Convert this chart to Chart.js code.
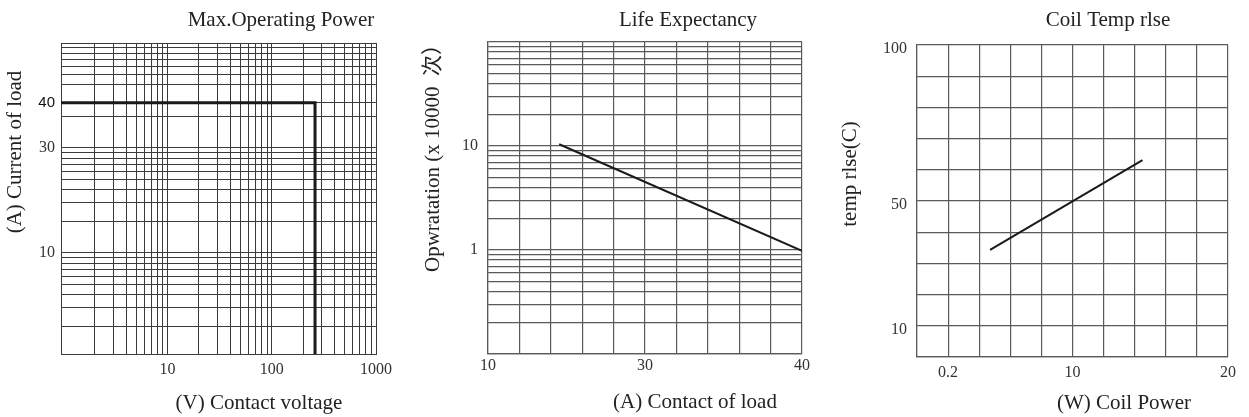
<!DOCTYPE html>
<html>
<head>
<meta charset="utf-8">
<script src="https://cdn.jsdelivr.net/npm/chart.js@4/dist/chart.umd.min.js"></script>
<style>
    body { margin: 0; background: #fff; }
    #wrap { position: relative; width: 1249px; height: 417px; }
    canvas { position: absolute; top: 0; }
</style>
</head>
<body>
<div id="wrap">
    <canvas id="powerChart" width="420" height="417" style="left:0px"></canvas>
    <canvas id="lifeChart" width="420" height="417" style="left:420px"></canvas>
    <canvas id="tempChart" width="409" height="417" style="left:840px"></canvas>
</div>
<script>
// Max.Operating Power (log / log)
const powerXTicks = [2, 3, 4, 5, 6, 7, 8, 9, 10, 20, 30, 40, 50, 60, 70, 80, 90, 100, 200, 300, 400, 500, 600, 700, 800, 900, 1000];
const powerYTicks = [2, 3, 4, 5, 6, 7, 8, 9, 10, 20, 30, 40, 50, 60, 70, 80, 90, 100, 200, 270, 400, 500, 600, 700, 800, 900, 1000];
const powerXLabels = { 10: '10', 100: '100', 1000: '1000' };
const powerYLabels = { 10: '10', 100: '30', 270: '40' };
const powerLimitX = [0.95, 260, 260];
const powerLimitY = [270, 270, 1.09];

// Life Expectancy
const lifeXTicks = [10, 13, 16, 19, 22, 25, 28, 31, 34, 37, 40];
const lifeYTicks = [0.1, 0.2, 0.3, 0.4, 0.5, 0.6, 0.7, 0.8, 0.9, 1, 2, 3, 4, 5, 6, 7, 8, 9, 10, 20, 30, 40, 50, 60, 70, 80, 90, 100];
const lifeXLabels = { 10: '10', 25: '30', 40: '40' };
const lifeYLabels = { 1: '1', 10: '10' };
const lifeX = [16.8, 40];
const lifeY = [10.4, 0.98];

// Coil Temp rlse
const tempXTicks = [0, 2, 4, 6, 8, 10, 12, 14, 16, 18, 20];
const tempYTicks = [0, 10, 20, 30, 40, 50, 60, 70, 80, 90, 100];
const tempXLabels = { 2: '0.2', 10: '10', 20: '20' };
const tempYLabels = { 10: '10', 50: '50', 100: '100' };
const tempX = [4.7, 14.5];
const tempY = [34.3, 63.1];

const SERIF = "'Liberation Serif', 'Noto Sans CJK SC', serif";

const panelText = {
    id: 'panelText',
    afterDraw(chart, args, opts) {
        const ctx = chart.ctx;
        opts.items.forEach(t => {
            ctx.save();
            ctx.font = '21px ' + SERIF;
            ctx.fillStyle = '#222';
            ctx.textAlign = 'center';
            ctx.textBaseline = 'middle';
            ctx.translate(t.x, t.y);
            if (t.rotate) ctx.rotate(-Math.PI / 2);
            ctx.fillText(t.text, 0, 0);
            ctx.restore();
        });
    }
};

function toPoints(xs, ys) {
    return xs.map((x, i) => ({ x: x, y: ys[i] }));
}

function makePanel(id, p) {
    const ctx = document.getElementById(id).getContext('2d');
    const w = ctx.canvas.width, h = ctx.canvas.height;
    new Chart(ctx, {
        type: 'line',
        data: {
            datasets: [{
                data: toPoints(p.xs, p.ys),
                borderColor: '#1a1a1a',
                borderWidth: p.lineWidth,
                pointRadius: 0,
                tension: 0,
                fill: false
            }]
        },
        options: {
            responsive: false,
            animation: false,
            layout: { padding: { left: 0, top: p.area.top, right: w - p.area.right, bottom: 0 } },
            plugins: {
                legend: { display: false },
                tooltip: { enabled: false },
                panelText: { items: p.texts }
            },
            scales: {
                x: {
                    type: p.xType,
                    min: p.xMin,
                    max: p.xMax,
                    afterBuildTicks: s => { s.ticks = p.xTicks.map(v => ({ value: v })); },
                    afterFit: s => { s.height = h - p.area.bottom; },
                    grid: { color: p.gridColor, lineWidth: p.gridWidth, drawTicks: false },
                    border: { color: p.gridColor, width: p.gridWidth },
                    ticks: {
                        autoSkip: false,
                        maxRotation: 0,
                        padding: p.xPad,
                        color: '#333',
                        font: { family: SERIF, size: 16 },
                        callback: v => p.xLabels[v] || ''
                    }
                },
                y: {
                    type: p.yType,
                    min: p.yMin,
                    max: p.yMax,
                    afterBuildTicks: s => { s.ticks = p.yTicks.map(v => ({ value: v })); },
                    afterFit: s => { s.width = p.area.left; },
                    grid: { color: p.gridColor, lineWidth: p.gridWidth, drawTicks: false },
                    border: { color: p.gridColor, width: p.gridWidth },
                    ticks: {
                        autoSkip: false,
                        padding: p.yPad,
                        labelOffset: p.yLabelOffset || 0,
                        color: c => (p.sansTick && c.tick && c.tick.value === p.sansTick) ? '#111' : '#333',
                        font: c => (p.sansTick && c.tick && c.tick.value === p.sansTick)
                            ? { family: "'Liberation Sans', sans-serif", size: 15 }
                            : { family: SERIF, size: 16 },
                        callback: v => p.yLabels[v] || ''
                    }
                }
            }
        },
        plugins: [panelText]
    });
}

makePanel('powerChart', {
    area: { left: 61, right: 376, top: 43, bottom: 354 },
    xType: 'logarithmic', xMin: 0.95, xMax: 1000,
    yType: 'logarithmic', yMin: 1.09, yMax: 1000,
    xTicks: powerXTicks, yTicks: powerYTicks,
    xLabels: powerXLabels, yLabels: powerYLabels,
    xs: powerLimitX, ys: powerLimitY,
    lineWidth: 3, gridColor: '#3a3a3a', gridWidth: 1,
    xPad: 6, yPad: 6, sansTick: 270,
    texts: [
        { text: 'Max.Operating Power', x: 281, y: 20 },
        { text: '(V) Contact voltage', x: 259, y: 403 },
        { text: '(A) Current of load', x: 15, y: 152, rotate: true }
    ]
});

makePanel('lifeChart', {
    area: { left: 68, right: 382, top: 42, bottom: 354 },
    xType: 'linear', xMin: 10, xMax: 40,
    yType: 'logarithmic', yMin: 0.1, yMax: 100,
    xTicks: lifeXTicks, yTicks: lifeYTicks,
    xLabels: lifeXLabels, yLabels: lifeYLabels,
    xs: lifeX, ys: lifeY,
    lineWidth: 2, gridColor: '#5a5a5a', gridWidth: 1.2,
    xPad: 2, yPad: 10,
    texts: [
        { text: 'Life Expectancy', x: 268, y: 20 },
        { text: '(A) Contact of load', x: 275, y: 402 },
        { text: 'Opwratation (x 10000  次）', x: 13, y: 153, rotate: true }
    ]
});

makePanel('tempChart', {
    area: { left: 77, right: 388, top: 45, bottom: 357 },
    xType: 'linear', xMin: 0, xMax: 20,
    yType: 'linear', yMin: 0, yMax: 100,
    xTicks: tempXTicks, yTicks: tempYTicks,
    xLabels: tempXLabels, yLabels: tempYLabels,
    xs: tempX, ys: tempY,
    lineWidth: 2, gridColor: '#5a5a5a', gridWidth: 1.2,
    xPad: 6, yPad: 10, yLabelOffset: 4,
    texts: [
        { text: 'Coil Temp rlse', x: 268, y: 20 },
        { text: '(W) Coil Power', x: 284, y: 403 },
        { text: 'temp rlse(C)', x: 10, y: 174, rotate: true }
    ]
});
</script>
</body>
</html>
